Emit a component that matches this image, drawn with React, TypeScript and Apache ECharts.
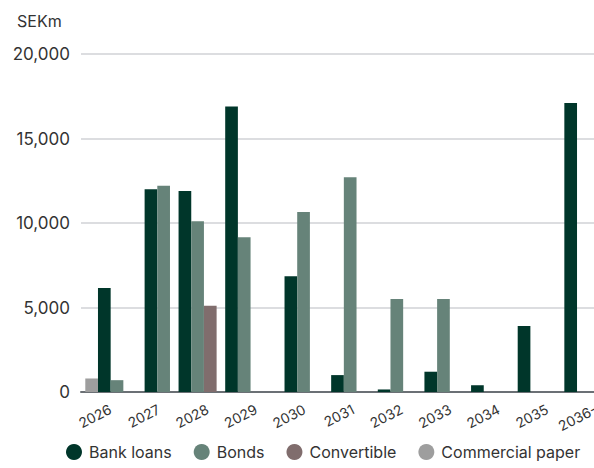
import React, { useEffect, useRef } from "react";
import * as echarts from "echarts";

const categories = ["2026", "2027", "2028", "2029", "2030", "2031", "2032", "2033", "2034", "2035", "2036-"];
// null = no slot in that year's group, 0 = empty slot
const bankLoans: (number | null)[] = [6150, 12000, 11900, 16900, 6850, 1000, 150, 1200, 400, 3900, 17100];
const bonds: (number | null)[] = [700, 12200, 10100, 9150, 10650, 12700, 5500, 5500, 0, 0, 0];
const convertible: (number | null)[] = [null, null, 5100, 0, null, null, null, null, null, null, null];
const commercialPaper: (number | null)[] = [800, 0, null, null, 0, 0, 0, 0, 0, 0, 0];
const yTicks = { min: 0, max: 20000, interval: 5000 };

const slotOrder = [commercialPaper, bankLoans, bonds, convertible];

const FONT = "Inter, 'Noto Sans', sans-serif";

function makeSeries(name: string, values: (number | null)[], color: string) {
  return {
    type: "custom",
    name,
    xAxisIndex: 0,
    yAxisIndex: 0,
    itemStyle: { color },
    encode: { x: 0, y: 1 },
    data: values.map((v, i) => [i, v ?? 0]),
    renderItem: (params: any, api: any) => {
      const i = api.value(0);
      const v = values[i];
      if (v == null || v === 0) return { type: "group", children: [] };
      const present = slotOrder.filter((a) => a[i] != null);
      const n = present.length;
      const k = present.indexOf(values);
      const band = api.size([1, 0])[0];
      const bw = band * 0.272;
      const top = api.coord([i, v]);
      const base = api.coord([i, 0]);
      const x = top[0] + (k - (n - 1) / 2) * bw - bw / 2;
      return {
        type: "rect",
        shape: { x, y: top[1], width: bw, height: base[1] - top[1] },
        style: { fill: color },
      };
    },
  };
}

export default function App() {
  const ref = useRef<HTMLDivElement>(null);
  useEffect(() => {
    document.body.style.margin = "0";
    const chart = echarts.init(ref.current!, undefined, { renderer: "svg" });
    chart.setOption({
      animation: false,
      textStyle: { fontFamily: FONT },
      grid: [
        { left: 81, right: 0, top: 54, bottom: 76, outerBoundsMode: "none" },
        { left: 86, width: 534, top: 54, bottom: 76, outerBoundsMode: "none" },
      ],
      graphic: [
        {
          type: "text",
          left: 17,
          top: 13,
          style: { text: "SEKm", fontSize: 16, fill: "#333", fontFamily: FONT },
        },
      ],
      legend: {
        left: 66,
        top: 444,
        padding: 0,
        icon: "circle",
        itemWidth: 16,
        itemHeight: 16,
        itemGap: 22,
        textStyle: { fontSize: 16, color: "#333", fontFamily: FONT, padding: [0, 0, 0, 2] },
        data: ["Bank loans", "Bonds", "Convertible", "Commercial paper"],
      },
      xAxis: [
        {
          type: "category",
          gridIndex: 0,
          data: categories,
          axisLine: { lineStyle: { color: "#6b7075", width: 2 } },
          axisTick: { show: false },
          axisLabel: { show: false },
        },
        {
          type: "category",
          gridIndex: 1,
          data: categories,
          axisLine: { show: false },
          axisTick: { show: false },
          splitLine: { show: false },
          axisLabel: {
            rotate: 27,
            margin: 16,
            fontSize: 14,
            color: "#333",
            fontFamily: FONT,
            interval: 0,
            hideOverlap: false,
          },
        },
      ],
      yAxis: [
        {
          type: "value",
          gridIndex: 0,
          min: yTicks.min,
          max: yTicks.max,
          interval: yTicks.interval,
          axisLine: { show: false },
          axisTick: { show: false },
          splitLine: { lineStyle: { color: "#dcdde0", width: 2 } },
          axisLabel: {
            margin: 11,
            fontSize: 17,
            color: "#333",
            fontFamily: FONT,
            formatter: (v: number) => v.toLocaleString("en-US"),
          },
        },
        {
          type: "value",
          gridIndex: 1,
          min: yTicks.min,
          max: yTicks.max,
          show: false,
        },
      ],
      series: [
        makeSeries("Bank loans", bankLoans, "#00362a"),
        makeSeries("Bonds", bonds, "#668379"),
        makeSeries("Convertible", convertible, "#806d6d"),
        makeSeries("Commercial paper", commercialPaper, "#9e9e9e"),
      ],
    });
    return () => chart.dispose();
  }, []);
  return <div ref={ref} style={{ width: 594, height: 468 }} />;
}
